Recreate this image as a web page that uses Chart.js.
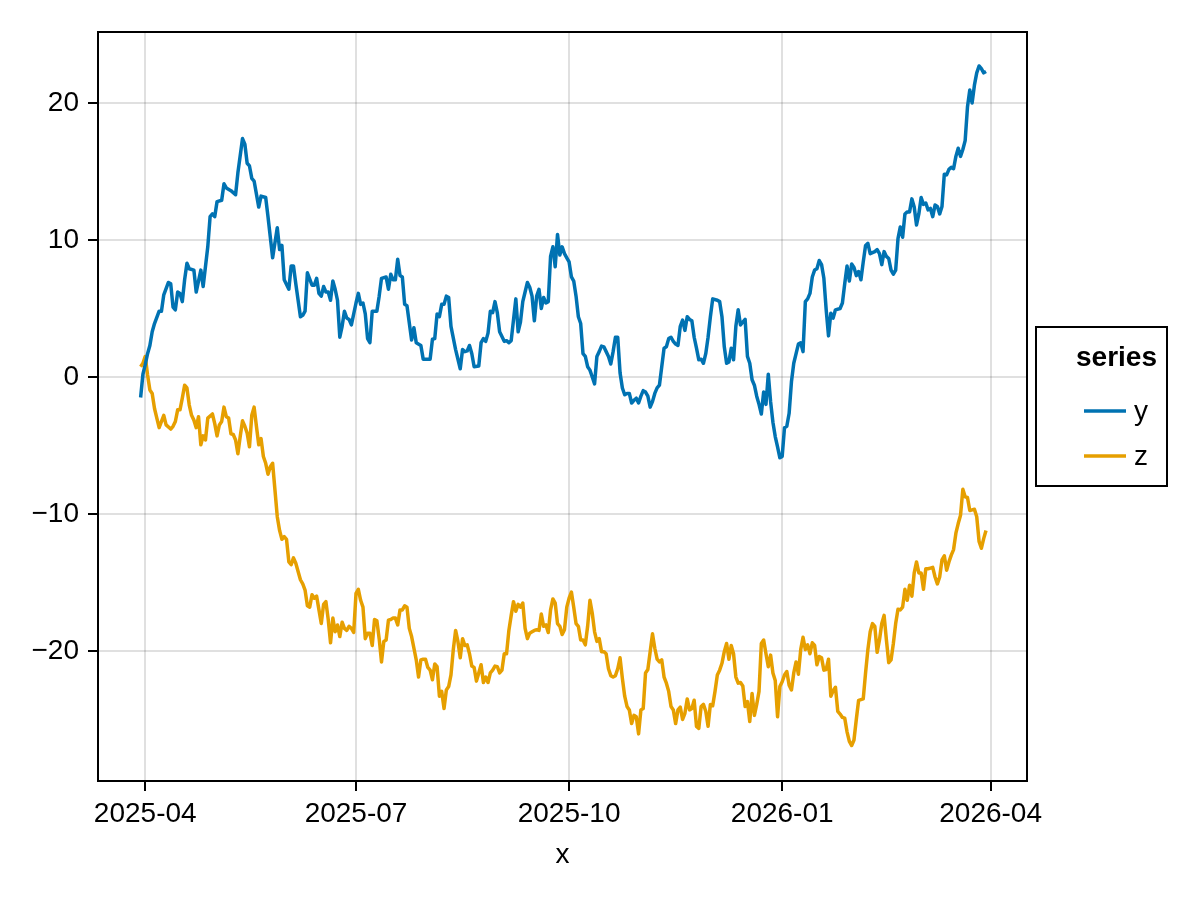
<!DOCTYPE html>
<html>
<head>
<meta charset="utf-8">
<script src="https://cdn.jsdelivr.net/npm/chart.js@4.4.1/dist/chart.umd.min.js"></script>
<style>
  html, body { margin: 0; padding: 0; background: #fff; }
  canvas { display: block; }
</style>
</head>
<body>
<canvas id="chart" width="1200" height="900"></canvas>
<script>
// x values are days counted from 2025-04-01
const yDays = [-2,-1,0,1,2,3,4,6,7,8,10,11,12,13,14,15,16,17,18,19,21,22,24,25,27,28,29,30,31,33,34,35,37,39,40,42,43,44,45,46,47,49,50,52,53,55,57,58,59,60,62,63,64,65,67,68,69,70,72,73,74,75,76,77,78,79,80,81,82,83,84,85,86,87,88,89,91,92,93,94,95,96,97,98,100,101,102,104,105,106,107,108,109,110,111,112,113,115,116,117,119,120,121,123,124,125,126,127,128,129,130,131,132,134,136,137,138,139,140,141,142,144,145,146,147,148,149,150,151,152,153,155,156,157,158,160,161,162,163,164,165,166,167,168,169,170,171,172,173,174,175,176,177,178,179,180,181,182,183,184,185,186,187,188,189,190,191,192,193,194,195,196,197,198,199,200,201,202,203,204,205,206,207,208,209,210,211,212,213,214,215,216,217,218,219,220,221,222,223,224,225,226,227,228,229,230,231,232,233,234,235,236,237,238,239,240,241,242,243,244,245,247,248,249,250,251,252,253,254,255,256,257,258,259,260,261,262,263,264,265,266,267,268,269,270,271,272,273,274,275,276,277,278,279,280,281,282,283,284,285,286,287,288,289,290,291,292,293,294,295,296,297,298,300,301,302,303,304,305,306,307,308,309,310,311,312,313,315,316,317,318,319,320,321,322,323,324,325,326,327,328,329,330,331,332,333,334,335,336,337,338,339,340,341,342,343,344,345,346,347,348,349,350,351,352,353,354,355,356,357,358,359,360,361,362,363];
const yValues = [-1.5,0.2,0.9,1.7,2.3,3.3,3.9,4.8,4.8,6.0,6.9,6.8,5.1,4.9,6.2,6.1,5.5,7.1,8.3,7.9,7.8,6.2,7.8,6.6,9.5,11.7,11.9,11.7,12.8,12.9,14.1,13.8,13.6,13.3,14.9,17.4,17.0,15.6,15.4,14.5,14.3,12.4,13.2,13.1,11.7,8.7,10.9,9.3,9.6,7.1,6.4,8.1,8.1,6.8,4.4,4.5,4.8,7.6,6.7,6.7,7.2,6.1,5.9,6.6,6.2,6.2,5.6,7.0,6.4,5.6,2.9,3.7,4.8,4.3,4.2,3.8,5.4,6.1,5.3,5.4,4.6,2.8,2.5,4.8,4.8,5.9,7.2,7.3,6.4,7.5,7.1,7.1,8.6,7.4,7.3,5.3,5.2,2.7,3.6,2.5,2.3,1.3,1.3,1.3,2.75,2.8,4.6,4.4,5.3,5.3,5.9,5.8,3.7,2.0,0.6,2.0,1.85,1.9,2.3,1.7,0.75,0.8,2.5,2.8,2.6,3.2,4.8,4.7,5.5,4.7,3.3,2.6,2.65,2.5,2.65,5.7,3.3,4.0,5.5,6.2,6.9,6.55,5.9,4.1,5.9,6.4,5.0,5.8,5.4,5.5,8.8,9.5,8.05,10.4,8.9,9.5,9.0,8.7,8.4,7.3,7.0,5.9,4.4,3.9,1.7,1.5,0.75,0.5,0.0,-0.5,1.5,1.85,2.25,2.2,1.85,1.5,0.95,1.85,2.9,2.9,0.3,-0.8,-1.3,-1.2,-1.2,-1.9,-1.7,-1.55,-1.9,-1.4,-1.0,-1.1,-1.4,-2.2,-1.8,-1.2,-0.8,-0.6,0.75,2.1,2.2,2.8,2.9,2.6,2.4,2.3,3.7,4.15,3.4,4.4,4.2,4.1,2.9,2.1,1.25,1.3,1.0,1.7,2.9,4.4,5.7,5.6,5.5,4.4,2.2,1.0,1.1,2.1,1.25,3.7,4.9,3.8,4.0,4.2,1.5,1.0,-0.2,-0.6,-1.4,-2.0,-2.7,-1.1,-2.0,0.2,-1.8,-3.3,-4.35,-5.1,-5.9,-5.8,-3.7,-3.6,-2.65,-0.35,1.0,1.7,2.4,2.5,1.85,5.5,5.7,6.1,7.3,7.8,7.9,8.5,8.2,7.2,4.9,3.0,4.65,4.3,4.9,5.0,5.4,6.8,8.1,7.0,8.25,8.0,7.4,7.7,7.1,8.4,9.6,9.75,9.0,9.15,9.3,9.0,8.2,9.15,8.8,8.65,7.8,7.5,7.8,10.1,10.95,10.2,11.9,12.05,12.05,13.0,12.4,11.1,11.9,13.1,12.6,12.7,12.2,12.3,11.7,12.55,12.45,11.9,12.45,14.8,14.75,15.15,15.3,15.2,16.1,16.7,16.1,16.6,17.25,19.7,20.95,20.0,21.3,22.2,22.7,22.5,22.2,22.3];

const zDays = [-2,-1,0,1,2,3,4,5,6,8,9,11,12,13,14,15,16,17,18,19,20,21,22,23,24,25,26,27,29,30,31,32,33,34,35,36,37,38,39,40,41,42,43,44,45,46,47,48,49,50,51,52,53,54,55,56,57,58,59,60,61,62,63,64,65,66,67,68,69,70,71,72,73,74,75,76,77,78,79,80,81,82,83,84,85,86,87,88,89,90,91,92,93,94,95,96,97,98,99,100,101,102,103,104,105,106,107,108,109,110,111,112,113,114,115,116,117,118,119,120,121,122,123,124,125,126,127,128,129,130,131,132,133,134,135,136,137,138,139,140,141,142,143,144,145,146,147,148,149,150,151,152,153,154,155,156,157,158,159,160,161,162,163,164,165,166,167,168,169,170,171,172,173,174,175,176,177,178,179,180,181,182,183,184,185,186,187,188,189,190,191,192,193,194,195,196,197,198,199,200,201,202,203,204,205,206,207,208,209,210,211,212,213,214,215,216,217,218,219,220,221,222,223,224,225,226,227,228,229,230,231,232,233,234,235,236,237,238,239,240,241,242,243,244,245,246,247,248,249,250,251,252,253,254,255,256,257,258,259,260,261,262,263,264,265,266,267,268,269,270,271,272,273,274,275,276,277,278,279,280,281,282,283,284,285,286,287,288,289,290,291,292,293,294,295,296,297,298,299,300,301,302,303,304,305,306,307,308,310,311,312,313,314,315,316,317,318,319,320,321,322,323,324,325,326,327,328,329,330,331,332,333,334,335,336,337,338,339,340,341,342,343,344,345,346,347,348,349,350,351,352,353,354,355,356,357,358,359,360,361,362,363];
const zValues = [0.75,1.0,1.5,0.15,-0.95,-1.2,-2.3,-3.0,-3.7,-2.8,-3.5,-3.8,-3.6,-3.25,-2.4,-2.4,-1.55,-0.6,-0.8,-2.05,-2.8,-3.15,-3.7,-2.9,-4.95,-4.3,-4.6,-3.0,-2.7,-3.4,-4.3,-3.5,-3.25,-2.2,-2.9,-3.0,-4.15,-4.2,-4.6,-5.6,-4.35,-3.2,-3.6,-4.1,-5.1,-2.8,-2.2,-3.6,-4.95,-4.5,-5.8,-6.3,-7.1,-6.55,-6.3,-8.25,-10.2,-11.2,-11.85,-11.65,-11.85,-13.5,-13.7,-13.2,-13.6,-14.2,-14.8,-15.1,-15.55,-16.7,-16.8,-15.9,-16.15,-16.0,-17.0,-18.0,-16.6,-16.4,-17.7,-19.4,-17.6,-18.6,-18.1,-18.95,-17.9,-18.35,-18.5,-18.2,-18.35,-18.65,-15.8,-15.5,-16.3,-16.8,-19.1,-18.7,-18.7,-19.6,-17.7,-17.8,-19.1,-20.8,-19.3,-19.2,-17.75,-17.7,-17.6,-17.6,-18.1,-17.0,-17.0,-16.7,-16.8,-18.35,-18.95,-19.8,-20.65,-21.9,-20.65,-20.6,-20.6,-21.2,-21.4,-22.1,-20.95,-21.15,-23.3,-22.95,-24.2,-22.85,-22.6,-21.75,-19.9,-18.5,-19.3,-20.5,-19.1,-19.6,-19.55,-20.2,-21.1,-21.2,-22.2,-21.6,-21.0,-22.3,-21.9,-22.3,-21.6,-21.4,-21.1,-21.15,-21.6,-21.4,-20.2,-20.2,-18.5,-17.4,-16.4,-17.1,-16.6,-16.8,-16.5,-18.35,-19.1,-18.7,-18.6,-18.5,-18.45,-18.5,-17.3,-18.2,-18.1,-18.65,-17.0,-16.2,-16.5,-18.0,-18.2,-18.8,-18.45,-16.8,-16.15,-15.7,-16.8,-18.0,-18.2,-19.2,-19.2,-19.55,-18.2,-16.3,-17.25,-18.6,-19.3,-19.1,-20.05,-20.05,-20.2,-21.3,-21.8,-21.9,-21.8,-21.3,-20.5,-22.0,-23.3,-24.05,-24.3,-25.3,-24.7,-24.8,-26.05,-24.3,-24.2,-21.6,-21.35,-20.05,-18.75,-19.8,-20.6,-20.8,-20.65,-21.9,-22.35,-22.95,-24.05,-24.3,-25.3,-24.3,-24.1,-25.0,-24.55,-23.5,-24.3,-24.2,-23.6,-25.5,-25.65,-24.05,-23.9,-24.4,-25.5,-23.9,-24.0,-22.95,-21.75,-21.4,-20.9,-20.05,-19.45,-20.6,-19.6,-20.2,-21.9,-22.35,-22.3,-22.55,-24.05,-23.7,-25.15,-23.1,-24.7,-23.9,-22.95,-19.45,-19.2,-20.2,-21.15,-20.3,-21.6,-22.15,-24.8,-22.6,-22.25,-21.75,-21.5,-22.5,-22.85,-21.6,-20.8,-21.7,-19.9,-19.0,-19.9,-19.55,-20.2,-19.4,-19.6,-21.0,-20.4,-20.5,-21.4,-21.35,-20.6,-23.3,-22.9,-22.65,-24.4,-24.6,-24.85,-24.9,-25.9,-26.6,-26.9,-26.5,-25.0,-23.6,-23.5,-21.6,-19.9,-18.6,-18.0,-18.2,-20.1,-19.2,-18.0,-17.4,-19.2,-20.85,-20.65,-19.45,-18.0,-16.95,-17.0,-16.8,-15.5,-16.3,-15.2,-16.0,-14.3,-13.5,-14.3,-14.3,-15.5,-14.0,-14.0,-13.95,-13.9,-14.6,-15.1,-14.6,-13.35,-13.05,-14.1,-13.5,-13.0,-12.6,-11.4,-10.7,-10.1,-8.2,-8.75,-8.8,-9.75,-9.7,-9.65,-10.2,-12.0,-12.5,-11.8,-11.2];

const xTickDays = [0, 91, 183, 275, 365];
const xTickLabels = ["2025-04", "2025-07", "2025-10", "2026-01", "2026-04"];
const yTickValues = [-20, -10, 0, 10, 20];
const seriesNames = ["y", "z"];
const seriesColors = ["#0072B2", "#E69F00"];

const FONT = "'Liberation Sans', Arial, Helvetica, sans-serif";

function toPoints(days, vals) {
  return days.map((d, i) => ({ x: d, y: vals[i] }));
}

// frame around the plot plus the boxed legend on the right
const framePlugin = {
  id: "frameAndLegend",
  afterDraw(chart) {
    const { ctx, chartArea } = chart;
    ctx.save();
    ctx.strokeStyle = "#000";
    ctx.lineWidth = 2;
    ctx.strokeRect(chartArea.left, chartArea.top,
      chartArea.right - chartArea.left, chartArea.bottom - chartArea.top);

    // legend
    const bx = 1036, by = 327, bw = 131, bh = 159;
    ctx.strokeRect(bx, by, bw, bh);
    ctx.fillStyle = "#000";
    ctx.textAlign = "center";
    ctx.textBaseline = "middle";
    ctx.font = "bold 28px " + FONT;
    ctx.fillText("series", bx + bw / 2 + 15, by + 31);
    ctx.font = "28px " + FONT;
    ctx.textAlign = "left";
    seriesNames.forEach((name, i) => {
      const ly = by + 84 + i * 45;
      ctx.strokeStyle = seriesColors[i];
      ctx.lineWidth = 3.5;
      ctx.beginPath();
      ctx.moveTo(bx + 48, ly);
      ctx.lineTo(bx + 90, ly);
      ctx.stroke();
      ctx.fillText(name, bx + 98, ly + 1);
    });
    ctx.restore();
  }
};

new Chart(document.getElementById("chart"), {
  type: "line",
  data: {
    datasets: [
      {
        label: seriesNames[0],
        data: toPoints(yDays, yValues),
        borderColor: seriesColors[0],
        borderWidth: 3.5,
        borderJoinStyle: "round",
        pointRadius: 0,
        tension: 0
      },
      {
        label: seriesNames[1],
        data: toPoints(zDays, zValues),
        borderColor: seriesColors[1],
        borderWidth: 3.5,
        borderJoinStyle: "round",
        pointRadius: 0,
        tension: 0
      }
    ]
  },
  options: {
    responsive: false,
    devicePixelRatio: 1,
    animation: false,
    layout: { padding: { top: 32, right: 173, left: 0, bottom: 0 } },
    plugins: {
      legend: { display: false },
      tooltip: { enabled: false }
    },
    scales: {
      x: {
        type: "linear",
        min: -20.4,
        max: 380.7,
        afterBuildTicks(scale) {
          scale.ticks = xTickDays.map(v => ({ value: v }));
        },
        afterFit(scale) { scale.height = 119; },
        ticks: {
          autoSkip: false,
          maxRotation: 0,
          color: "#000",
          padding: 6,
          font: { family: FONT, size: 28 },
          callback: v => xTickLabels[xTickDays.indexOf(v)]
        },
        grid: {
          color: "rgba(0,0,0,0.12)",
          lineWidth: 2,
          tickColor: "#000",
          tickWidth: 2,
          tickLength: 10
        },
        border: { display: false },
        title: {
          display: true,
          text: "x",
          color: "#000",
          font: { family: FONT, size: 28 },
          padding: { top: 0, bottom: 28 }
        }
      },
      y: {
        type: "linear",
        min: -29.49,
        max: 25.18,
        afterBuildTicks(scale) {
          scale.ticks = yTickValues.map(v => ({ value: v }));
        },
        afterFit(scale) { scale.width = 98; },
        ticks: {
          color: "#000",
          padding: 9,
          font: { family: FONT, size: 28 },
          callback: v => (v < 0 ? "\u2212" + Math.abs(v) : String(v))
        },
        grid: {
          color: "rgba(0,0,0,0.12)",
          lineWidth: 2,
          tickColor: "#000",
          tickWidth: 2,
          tickLength: 10
        },
        border: { display: false }
      }
    }
  },
  plugins: [framePlugin]
});
</script>
</body>
</html>
